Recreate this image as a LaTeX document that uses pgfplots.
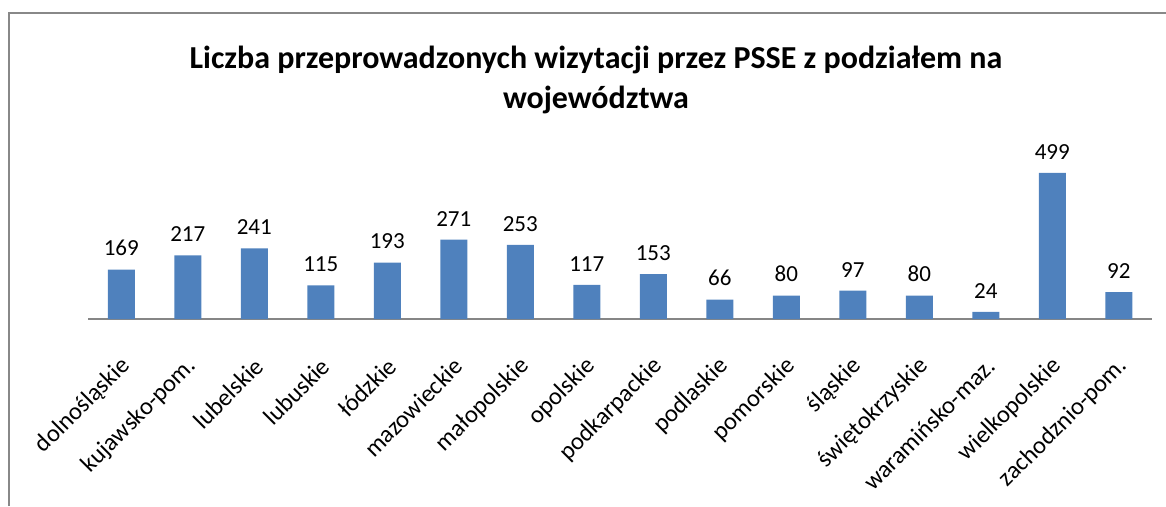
\documentclass[border=0pt]{standalone}
\usepackage{fontspec}
\setmainfont{Carlito}
\usepackage{pgfplots}
\pgfplotsset{compat=1.18}
\definecolor{barblue}{HTML}{4F81BD}
\definecolor{framegray}{HTML}{888888}
\definecolor{axisgray}{HTML}{868686}
\begin{document}
\begin{tikzpicture}[x=1pt,y=1pt]
\path[use as bounding box] (0,0) rectangle (1166,-506);
\draw[color=framegray, line width=2pt] (9,-506) -- (9,-13) -- (1166,-13);
\node[font=\bfseries\fontsize{32}{40}\selectfont, align=center] at (596,-80) {Liczba przeprowadzonych wizytacji przez PSSE z podziałem na\\województwa};
\begin{axis}[
  at={(88pt,-319pt)}, anchor=south west,
  scale only axis, width=1064pt, height=175.6pt,
  xmin=-0.5, xmax=15.5, ymin=0, ymax=600,
  axis x line=bottom, axis y line=none,
  x axis line style={-, color=axisgray, line width=1.2pt},
  xtick=data, xtick style={draw=none},
  xticklabels={dolnośląskie,kujawsko-pom.,lubelskie,lubuskie,łódzkie,mazowieckie,małopolskie,opolskie,podkarpackie,podlaskie,pomorskie,śląskie,świętokrzyskie,waramińsko-maz.,wielkopolskie,zachodznio-pom.},
  xticklabel style={xshift=5pt, yshift=-39pt, rotate=45, anchor=east, inner sep=0pt, font=\fontsize{24.5}{28}\selectfont},
  ybar, bar width=27pt,
  nodes near coords,
  every node near coord/.append style={font=\fontsize{23}{27}\selectfont, yshift=10pt},
  /pgf/number format/assume math mode=true,
  clip=false,
]
\addplot[fill=barblue, draw=none] coordinates {
(0,169) (1,217) (2,241) (3,115) (4,193) (5,271) (6,253) (7,117)
(8,153) (9,66) (10,80) (11,97) (12,80) (13,24) (14,499) (15,92)};
\end{axis}
\end{tikzpicture}
\end{document}
